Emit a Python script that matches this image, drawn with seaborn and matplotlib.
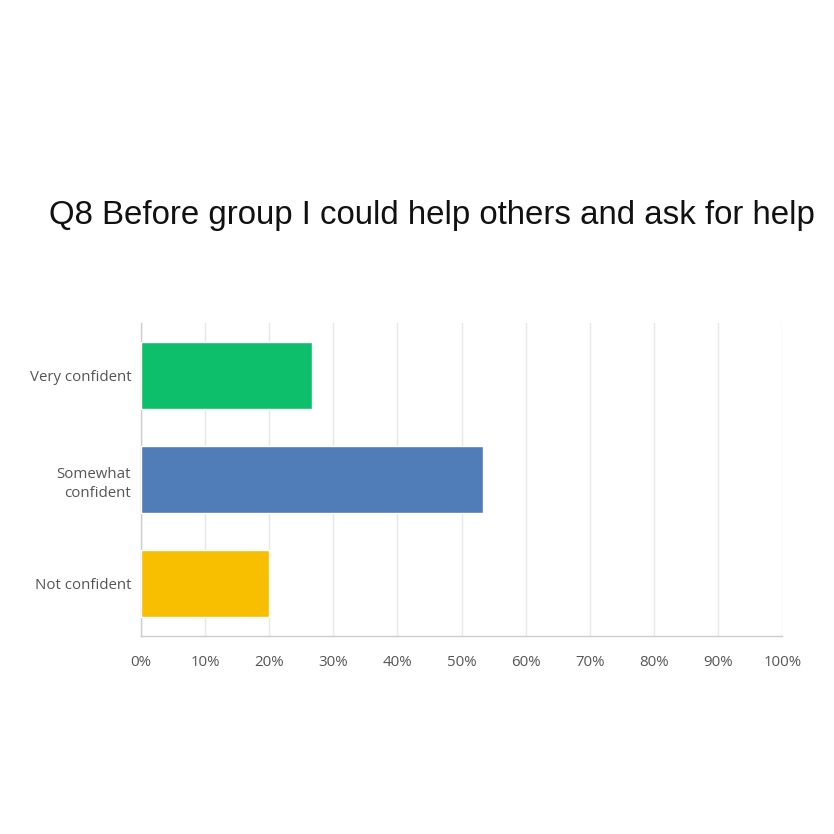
import matplotlib
matplotlib.use("Agg")
import matplotlib.pyplot as plt
import seaborn as sns
import pandas as pd
from matplotlib.ticker import FuncFormatter

categories = ["Very confident", "Somewhat\nconfident", "Not confident"]
values = [26.67, 53.33, 20.0]
colors = ["#0DBF6B", "#507CB7", "#F8BE00"]
x_ticks = [0, 10, 20, 30, 40, 50, 60, 70, 80, 90, 100]
title = "Q8 Before group I could help others and ask for help"

sns.set_theme(style="white")
plt.rcParams['font.family'] = ['Open Sans', 'DejaVu Sans']

df = pd.DataFrame({"category": categories, "value": values})

fig = plt.figure(figsize=(8.34, 8.34), dpi=100)
ax = fig.add_axes([0.169, 0.2374, 0.769, 0.3753])
sns.barplot(data=df, x="value", y="category", hue="category", palette=colors,
            legend=False, width=0.64, ax=ax, saturation=1, zorder=3)

ax.set_xlim(0, 100)
ax.set_ylim(2.5, -0.5)
ax.set_xticks(x_ticks)
ax.xaxis.set_major_formatter(FuncFormatter(lambda v, p: f"{int(v)}%"))
ax.grid(axis="x", color="#e8e8e8", linewidth=1, zorder=0)
ax.set_axisbelow(True)
ax.set_xlabel("")
ax.set_ylabel("")
for s in ["top", "right"]:
    ax.spines[s].set_visible(False)
for s in ["left", "bottom"]:
    ax.spines[s].set_color("#cccccc")
    ax.spines[s].set_linewidth(1)
ax.tick_params(axis="both", length=0, labelsize=10.8, labelcolor="#555555")
ax.tick_params(axis="x", pad=14)
ax.tick_params(axis="y", pad=7)
for lbl in ax.get_yticklabels():
    lbl.set_horizontalalignment("right")
    lbl.set_multialignment("right")
    lbl.set_linespacing(1.4)

fig.text(0.518, 0.742, title, ha="center", va="center", fontsize=23.8,
         color="#111111", family=["Liberation Sans", "DejaVu Sans"])

fig.savefig("out.png", dpi=100, facecolor="white")
